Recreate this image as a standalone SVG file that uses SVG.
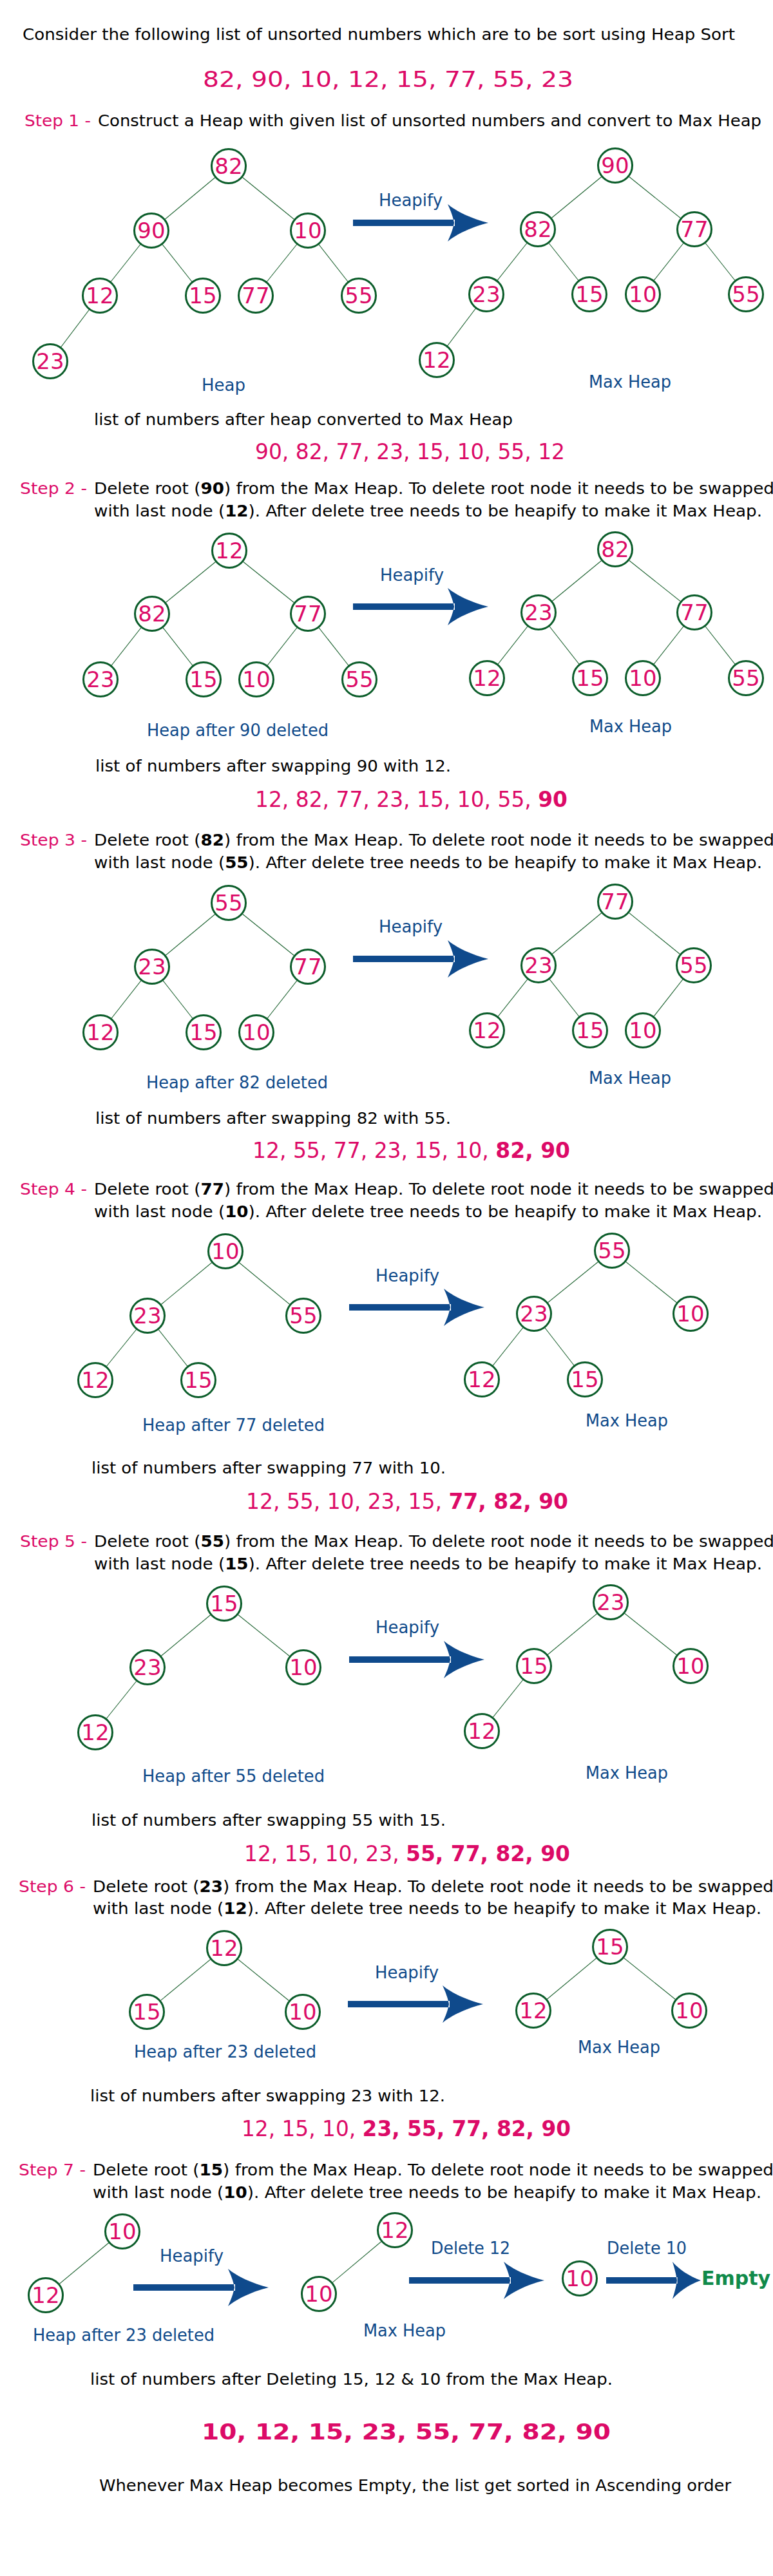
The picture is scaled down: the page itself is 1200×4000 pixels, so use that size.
<svg xmlns="http://www.w3.org/2000/svg" width="1200" height="4000" viewBox="0 0 1200 4000">
<style>
.bg{fill:#fff}
.node circle{fill:#fff;stroke:#0b5d2a;stroke-width:3}
.node text{font-family:"DejaVu Sans",sans-serif;font-size:34px;fill:#dc0a67;text-anchor:middle}
.edges line{stroke:#1f6432;stroke-width:1.1}
.t{font-family:"DejaVu Sans",sans-serif;font-size:25px;fill:#000}
.pk{fill:#dc0a67}
.bl{font-family:"DejaVu Sans",sans-serif;font-size:26px;fill:#0f4a8a}
.num{font-family:"DejaVu Sans",sans-serif;font-size:33px;fill:#dc0a67}
.b{font-weight:bold}
.arrow{fill:#0f4a8c}
.empty{font-family:"DejaVu Sans",sans-serif;font-size:30px;font-weight:bold;fill:#108a4a}
</style>
<defs>
<path id="arr" d="M -210 -5 H -52 V 5 H -210 Z M 0 0 C -25 -6 -50 -18 -63 -29 C -58 -18 -55 -10 -53 0 C -55 10 -58 18 -63 29 C -50 18 -25 6 0 0 Z"/>
</defs>
<rect class="bg" x="0" y="0" width="1200" height="4000"/>

<!-- Intro -->
<text class="t" x="35" y="62" font-size="26" textLength="1106" lengthAdjust="spacingAndGlyphs">Consider the following list of unsorted numbers which are to be sort using Heap Sort</text>
<text class="num" x="315" y="135" font-size="40" textLength="575" lengthAdjust="spacingAndGlyphs">82, 90, 10, 12, 15, 77, 55, 23</text>
<text class="t pk" x="38" y="196" textLength="103" lengthAdjust="spacingAndGlyphs">Step 1 -</text>
<text class="t" x="152" y="196" textLength="1030" lengthAdjust="spacingAndGlyphs">Construct a Heap with given list of unsorted numbers and convert to Max Heap</text>

<!-- Step texts -->
<text class="t pk" x="31" y="767" textLength="104" lengthAdjust="spacingAndGlyphs">Step 2 -</text>
<text class="t" x="146" y="767" textLength="1056" lengthAdjust="spacingAndGlyphs">Delete root (<tspan class="b">90</tspan>) from the Max Heap. To delete root node it needs to be swapped</text>
<text class="t" x="146" y="802" textLength="1037" lengthAdjust="spacingAndGlyphs">with last node (<tspan class="b">12</tspan>). After delete tree needs to be heapify to make it Max Heap.</text>

<text class="t pk" x="31" y="1313" textLength="104" lengthAdjust="spacingAndGlyphs">Step 3 -</text>
<text class="t" x="146" y="1313" textLength="1056" lengthAdjust="spacingAndGlyphs">Delete root (<tspan class="b">82</tspan>) from the Max Heap. To delete root node it needs to be swapped</text>
<text class="t" x="146" y="1348" textLength="1037" lengthAdjust="spacingAndGlyphs">with last node (<tspan class="b">55</tspan>). After delete tree needs to be heapify to make it Max Heap.</text>

<text class="t pk" x="31" y="1855" textLength="104" lengthAdjust="spacingAndGlyphs">Step 4 -</text>
<text class="t" x="146" y="1855" textLength="1056" lengthAdjust="spacingAndGlyphs">Delete root (<tspan class="b">77</tspan>) from the Max Heap. To delete root node it needs to be swapped</text>
<text class="t" x="146" y="1890" textLength="1037" lengthAdjust="spacingAndGlyphs">with last node (<tspan class="b">10</tspan>). After delete tree needs to be heapify to make it Max Heap.</text>

<text class="t pk" x="31" y="2402" textLength="104" lengthAdjust="spacingAndGlyphs">Step 5 -</text>
<text class="t" x="146" y="2402" textLength="1056" lengthAdjust="spacingAndGlyphs">Delete root (<tspan class="b">55</tspan>) from the Max Heap. To delete root node it needs to be swapped</text>
<text class="t" x="146" y="2437" textLength="1037" lengthAdjust="spacingAndGlyphs">with last node (<tspan class="b">15</tspan>). After delete tree needs to be heapify to make it Max Heap.</text>

<text class="t pk" x="29" y="2938" textLength="104" lengthAdjust="spacingAndGlyphs">Step 6 -</text>
<text class="t" x="144" y="2938" textLength="1057" lengthAdjust="spacingAndGlyphs">Delete root (<tspan class="b">23</tspan>) from the Max Heap. To delete root node it needs to be swapped</text>
<text class="t" x="144" y="2972" textLength="1038" lengthAdjust="spacingAndGlyphs">with last node (<tspan class="b">12</tspan>). After delete tree needs to be heapify to make it Max Heap.</text>

<text class="t pk" x="29" y="3378" textLength="104" lengthAdjust="spacingAndGlyphs">Step 7 -</text>
<text class="t" x="144" y="3378" textLength="1057" lengthAdjust="spacingAndGlyphs">Delete root (<tspan class="b">15</tspan>) from the Max Heap. To delete root node it needs to be swapped</text>
<text class="t" x="144" y="3413" textLength="1038" lengthAdjust="spacingAndGlyphs">with last node (<tspan class="b">10</tspan>). After delete tree needs to be heapify to make it Max Heap.</text>

<!-- list captions -->
<text class="t" x="146" y="660" textLength="650" lengthAdjust="spacingAndGlyphs">list of numbers after heap converted to Max Heap</text>
<text class="t" x="148" y="1198" textLength="552" lengthAdjust="spacingAndGlyphs">list of numbers after swapping 90 with 12.</text>
<text class="t" x="148" y="1745" textLength="552" lengthAdjust="spacingAndGlyphs">list of numbers after swapping 82 with 55.</text>
<text class="t" x="142" y="2288" textLength="550" lengthAdjust="spacingAndGlyphs">list of numbers after swapping 77 with 10.</text>
<text class="t" x="142" y="2835" textLength="550" lengthAdjust="spacingAndGlyphs">list of numbers after swapping 55 with 15.</text>
<text class="t" x="140" y="3263" textLength="551" lengthAdjust="spacingAndGlyphs">list of numbers after swapping 23 with 12.</text>
<text class="t" x="140" y="3703" textLength="811" lengthAdjust="spacingAndGlyphs">list of numbers after Deleting 15, 12 &amp; 10 from the Max Heap.</text>
<text class="t" x="154" y="3868" textLength="981" lengthAdjust="spacingAndGlyphs">Whenever Max Heap becomes Empty, the list get sorted in Ascending order</text>

<!-- number lists -->
<text class="num" x="396" y="713" textLength="481" lengthAdjust="spacingAndGlyphs">90, 82, 77, 23, 15, 10, 55, 12</text>
<text class="num" x="396" y="1253" textLength="485" lengthAdjust="spacingAndGlyphs">12, 82, 77, 23, 15, 10, 55, <tspan class="b">90</tspan></text>
<text class="num" x="392" y="1798" textLength="493" lengthAdjust="spacingAndGlyphs">12, 55, 77, 23, 15, 10, <tspan class="b">82, 90</tspan></text>
<text class="num" x="382" y="2343" textLength="500" lengthAdjust="spacingAndGlyphs">12, 55, 10, 23, 15, <tspan class="b">77, 82, 90</tspan></text>
<text class="num" x="379" y="2890" textLength="506" lengthAdjust="spacingAndGlyphs">12, 15, 10, 23, <tspan class="b">55, 77, 82, 90</tspan></text>
<text class="num" x="375" y="3317" textLength="511" lengthAdjust="spacingAndGlyphs">12, 15, 10, <tspan class="b">23, 55, 77, 82, 90</tspan></text>
<text class="num b" x="313" y="3788" font-size="40" textLength="635" lengthAdjust="spacingAndGlyphs">10, 12, 15, 23, 55, 77, 82, 90</text>

<!-- blue labels -->
<text class="bl" x="313" y="607">Heap</text>
<text class="bl" x="914" y="602" textLength="128" lengthAdjust="spacingAndGlyphs">Max Heap</text>
<text class="bl" x="228" y="1143" textLength="282" lengthAdjust="spacingAndGlyphs">Heap after 90 deleted</text>
<text class="bl" x="915" y="1137" textLength="128" lengthAdjust="spacingAndGlyphs">Max Heap</text>
<text class="bl" x="227" y="1690" textLength="282" lengthAdjust="spacingAndGlyphs">Heap after 82 deleted</text>
<text class="bl" x="914" y="1683" textLength="128" lengthAdjust="spacingAndGlyphs">Max Heap</text>
<text class="bl" x="221" y="2222" textLength="283" lengthAdjust="spacingAndGlyphs">Heap after 77 deleted</text>
<text class="bl" x="909" y="2215" textLength="128" lengthAdjust="spacingAndGlyphs">Max Heap</text>
<text class="bl" x="221" y="2767" textLength="283" lengthAdjust="spacingAndGlyphs">Heap after 55 deleted</text>
<text class="bl" x="909" y="2762" textLength="128" lengthAdjust="spacingAndGlyphs">Max Heap</text>
<text class="bl" x="208" y="3195" textLength="283" lengthAdjust="spacingAndGlyphs">Heap after 23 deleted</text>
<text class="bl" x="897" y="3188" textLength="128" lengthAdjust="spacingAndGlyphs">Max Heap</text>
<text class="bl" x="51" y="3635" textLength="282" lengthAdjust="spacingAndGlyphs">Heap after 23 deleted</text>
<text class="bl" x="564" y="3628" textLength="128" lengthAdjust="spacingAndGlyphs">Max Heap</text>

<!-- arrows -->
<g id="arrows" class="arrow">
<text class="bl" x="588" y="320" textLength="99" lengthAdjust="spacingAndGlyphs">Heapify</text>
<use href="#arr" transform="translate(758,346)"/>
<text class="bl" x="590" y="902" textLength="99" lengthAdjust="spacingAndGlyphs">Heapify</text>
<use href="#arr" transform="translate(758,942)"/>
<text class="bl" x="588" y="1448" textLength="99" lengthAdjust="spacingAndGlyphs">Heapify</text>
<use href="#arr" transform="translate(758,1489)"/>
<text class="bl" x="583" y="1990" textLength="99" lengthAdjust="spacingAndGlyphs">Heapify</text>
<use href="#arr" transform="translate(752,2030)"/>
<text class="bl" x="583" y="2536" textLength="99" lengthAdjust="spacingAndGlyphs">Heapify</text>
<use href="#arr" transform="translate(752,2577)"/>
<text class="bl" x="582" y="3072" textLength="99" lengthAdjust="spacingAndGlyphs">Heapify</text>
<use href="#arr" transform="translate(750,3112)"/>
<text class="bl" x="248" y="3512" textLength="99" lengthAdjust="spacingAndGlyphs">Heapify</text>
<use href="#arr" transform="translate(417,3552)"/>
<text class="bl" x="669" y="3500" textLength="123" lengthAdjust="spacingAndGlyphs">Delete 12</text>
<use href="#arr" transform="translate(845,3541)"/>
<text class="bl" x="942" y="3500" textLength="124" lengthAdjust="spacingAndGlyphs">Delete 10</text>
<use href="#arr" transform="translate(1088,3541) scale(0.7,1)"/>
</g>
<text class="empty" x="1089" y="3548">Empty</text>

<!-- connectors -->
<g id="connectors" class="edges">
<line x1="355" y1="258" x2="235" y2="358"/><line x1="355" y1="258" x2="478" y2="358"/>
<line x1="235" y1="358" x2="155" y2="459"/><line x1="235" y1="358" x2="315" y2="459"/>
<line x1="478" y1="358" x2="397" y2="459"/><line x1="478" y1="358" x2="557" y2="459"/>
<line x1="155" y1="459" x2="78" y2="561"/>
<line x1="955" y1="257" x2="835" y2="356"/><line x1="955" y1="257" x2="1078" y2="356"/>
<line x1="835" y1="356" x2="755" y2="457"/><line x1="835" y1="356" x2="915" y2="457"/>
<line x1="1078" y1="356" x2="998" y2="457"/><line x1="1078" y1="356" x2="1158" y2="457"/>
<line x1="755" y1="457" x2="678" y2="559"/>

<line x1="356" y1="855" x2="236" y2="953"/><line x1="356" y1="855" x2="478" y2="953"/>
<line x1="236" y1="953" x2="156" y2="1055"/><line x1="236" y1="953" x2="316" y2="1055"/>
<line x1="478" y1="953" x2="398" y2="1055"/><line x1="478" y1="953" x2="558" y2="1055"/>
<line x1="955" y1="853" x2="836" y2="951"/><line x1="955" y1="853" x2="1078" y2="951"/>
<line x1="836" y1="951" x2="756" y2="1053"/><line x1="836" y1="951" x2="916" y2="1053"/>
<line x1="1078" y1="951" x2="998" y2="1053"/><line x1="1078" y1="951" x2="1158" y2="1053"/>

<line x1="355" y1="1402" x2="236" y2="1501"/><line x1="355" y1="1402" x2="478" y2="1501"/>
<line x1="236" y1="1501" x2="156" y2="1603"/><line x1="236" y1="1501" x2="316" y2="1603"/>
<line x1="478" y1="1501" x2="398" y2="1603"/>
<line x1="955" y1="1400" x2="836" y2="1499"/><line x1="955" y1="1400" x2="1077" y2="1499"/>
<line x1="836" y1="1499" x2="756" y2="1600"/><line x1="836" y1="1499" x2="916" y2="1600"/>
<line x1="1077" y1="1499" x2="998" y2="1600"/>

<line x1="350" y1="1943" x2="229" y2="2043"/><line x1="350" y1="1943" x2="471" y2="2043"/>
<line x1="229" y1="2043" x2="148" y2="2143"/><line x1="229" y1="2043" x2="308" y2="2143"/>
<line x1="950" y1="1942" x2="829" y2="2040"/><line x1="950" y1="1942" x2="1072" y2="2040"/>
<line x1="829" y1="2040" x2="748" y2="2142"/><line x1="829" y1="2040" x2="908" y2="2142"/>

<line x1="348" y1="2490" x2="229" y2="2589"/><line x1="348" y1="2490" x2="471" y2="2589"/>
<line x1="229" y1="2589" x2="148" y2="2690"/>
<line x1="948" y1="2488" x2="829" y2="2587"/><line x1="948" y1="2488" x2="1072" y2="2587"/>
<line x1="829" y1="2587" x2="748" y2="2688"/>

<line x1="348" y1="3025" x2="228" y2="3124"/><line x1="348" y1="3025" x2="470" y2="3124"/>
<line x1="947" y1="3023" x2="828" y2="3122"/><line x1="947" y1="3023" x2="1070" y2="3122"/>

<line x1="190" y1="3465" x2="71" y2="3564"/>
<line x1="613" y1="3463" x2="495" y2="3562"/>
</g>

<!-- nodes -->
<g id="s1-heap">
<g id="n1a" class="node"><circle cx="355" cy="258" r="26.5"/><text x="355" y="270">82</text></g>
<g id="n1b" class="node"><circle cx="235" cy="358" r="26.5"/><text x="235" y="370">90</text></g>
<g id="n1c" class="node"><circle cx="478" cy="358" r="26.5"/><text x="478" y="370">10</text></g>
<g id="n1d" class="node"><circle cx="155" cy="459" r="26.5"/><text x="155" y="471">12</text></g>
<g id="n1e" class="node"><circle cx="315" cy="459" r="26.5"/><text x="315" y="471">15</text></g>
<g id="n1f" class="node"><circle cx="397" cy="459" r="26.5"/><text x="397" y="471">77</text></g>
<g id="n1g" class="node"><circle cx="557" cy="459" r="26.5"/><text x="557" y="471">55</text></g>
<g id="n1h" class="node"><circle cx="78" cy="561" r="26.5"/><text x="78" y="573">23</text></g>
</g>
<g id="s1-max">
<g id="m1a" class="node"><circle cx="955" cy="257" r="26.5"/><text x="955" y="269">90</text></g>
<g id="m1b" class="node"><circle cx="835" cy="356" r="26.5"/><text x="835" y="368">82</text></g>
<g id="m1c" class="node"><circle cx="1078" cy="356" r="26.5"/><text x="1078" y="368">77</text></g>
<g id="m1d" class="node"><circle cx="755" cy="457" r="26.5"/><text x="755" y="469">23</text></g>
<g id="m1e" class="node"><circle cx="915" cy="457" r="26.5"/><text x="915" y="469">15</text></g>
<g id="m1f" class="node"><circle cx="998" cy="457" r="26.5"/><text x="998" y="469">10</text></g>
<g id="m1g" class="node"><circle cx="1158" cy="457" r="26.5"/><text x="1158" y="469">55</text></g>
<g id="m1h" class="node"><circle cx="678" cy="559" r="26.5"/><text x="678" y="571">12</text></g>
</g>

<g id="s2-heap">
<g id="n2a" class="node"><circle cx="356" cy="855" r="26.5"/><text x="356" y="867">12</text></g>
<g id="n2b" class="node"><circle cx="236" cy="953" r="26.5"/><text x="236" y="965">82</text></g>
<g id="n2c" class="node"><circle cx="478" cy="953" r="26.5"/><text x="478" y="965">77</text></g>
<g id="n2d" class="node"><circle cx="156" cy="1055" r="26.5"/><text x="156" y="1067">23</text></g>
<g id="n2e" class="node"><circle cx="316" cy="1055" r="26.5"/><text x="316" y="1067">15</text></g>
<g id="n2f" class="node"><circle cx="398" cy="1055" r="26.5"/><text x="398" y="1067">10</text></g>
<g id="n2g" class="node"><circle cx="558" cy="1055" r="26.5"/><text x="558" y="1067">55</text></g>
</g>
<g id="s2-max">
<g id="m2a" class="node"><circle cx="955" cy="853" r="26.5"/><text x="955" y="865">82</text></g>
<g id="m2b" class="node"><circle cx="836" cy="951" r="26.5"/><text x="836" y="963">23</text></g>
<g id="m2c" class="node"><circle cx="1078" cy="951" r="26.5"/><text x="1078" y="963">77</text></g>
<g id="m2d" class="node"><circle cx="756" cy="1053" r="26.5"/><text x="756" y="1065">12</text></g>
<g id="m2e" class="node"><circle cx="916" cy="1053" r="26.5"/><text x="916" y="1065">15</text></g>
<g id="m2f" class="node"><circle cx="998" cy="1053" r="26.5"/><text x="998" y="1065">10</text></g>
<g id="m2g" class="node"><circle cx="1158" cy="1053" r="26.5"/><text x="1158" y="1065">55</text></g>
</g>

<g id="s3-heap">
<g id="n3a" class="node"><circle cx="355" cy="1402" r="26.5"/><text x="355" y="1414">55</text></g>
<g id="n3b" class="node"><circle cx="236" cy="1501" r="26.5"/><text x="236" y="1513">23</text></g>
<g id="n3c" class="node"><circle cx="478" cy="1501" r="26.5"/><text x="478" y="1513">77</text></g>
<g id="n3d" class="node"><circle cx="156" cy="1603" r="26.5"/><text x="156" y="1615">12</text></g>
<g id="n3e" class="node"><circle cx="316" cy="1603" r="26.5"/><text x="316" y="1615">15</text></g>
<g id="n3f" class="node"><circle cx="398" cy="1603" r="26.5"/><text x="398" y="1615">10</text></g>
</g>
<g id="s3-max">
<g id="m3a" class="node"><circle cx="955" cy="1400" r="26.5"/><text x="955" y="1412">77</text></g>
<g id="m3b" class="node"><circle cx="836" cy="1499" r="26.5"/><text x="836" y="1511">23</text></g>
<g id="m3c" class="node"><circle cx="1077" cy="1499" r="26.5"/><text x="1077" y="1511">55</text></g>
<g id="m3d" class="node"><circle cx="756" cy="1600" r="26.5"/><text x="756" y="1612">12</text></g>
<g id="m3e" class="node"><circle cx="916" cy="1600" r="26.5"/><text x="916" y="1612">15</text></g>
<g id="m3f" class="node"><circle cx="998" cy="1600" r="26.5"/><text x="998" y="1612">10</text></g>
</g>

<g id="s4-heap">
<g id="n4a" class="node"><circle cx="350" cy="1943" r="26.5"/><text x="350" y="1955">10</text></g>
<g id="n4b" class="node"><circle cx="229" cy="2043" r="26.5"/><text x="229" y="2055">23</text></g>
<g id="n4c" class="node"><circle cx="471" cy="2043" r="26.5"/><text x="471" y="2055">55</text></g>
<g id="n4d" class="node"><circle cx="148" cy="2143" r="26.5"/><text x="148" y="2155">12</text></g>
<g id="n4e" class="node"><circle cx="308" cy="2143" r="26.5"/><text x="308" y="2155">15</text></g>
</g>
<g id="s4-max">
<g id="m4a" class="node"><circle cx="950" cy="1942" r="26.5"/><text x="950" y="1954">55</text></g>
<g id="m4b" class="node"><circle cx="829" cy="2040" r="26.5"/><text x="829" y="2052">23</text></g>
<g id="m4c" class="node"><circle cx="1072" cy="2040" r="26.5"/><text x="1072" y="2052">10</text></g>
<g id="m4d" class="node"><circle cx="748" cy="2142" r="26.5"/><text x="748" y="2154">12</text></g>
<g id="m4e" class="node"><circle cx="908" cy="2142" r="26.5"/><text x="908" y="2154">15</text></g>
</g>

<g id="s5-heap">
<g id="n5a" class="node"><circle cx="348" cy="2490" r="26.5"/><text x="348" y="2502">15</text></g>
<g id="n5b" class="node"><circle cx="229" cy="2589" r="26.5"/><text x="229" y="2601">23</text></g>
<g id="n5c" class="node"><circle cx="471" cy="2589" r="26.5"/><text x="471" y="2601">10</text></g>
<g id="n5d" class="node"><circle cx="148" cy="2690" r="26.5"/><text x="148" y="2702">12</text></g>
</g>
<g id="s5-max">
<g id="m5a" class="node"><circle cx="948" cy="2488" r="26.5"/><text x="948" y="2500">23</text></g>
<g id="m5b" class="node"><circle cx="829" cy="2587" r="26.5"/><text x="829" y="2599">15</text></g>
<g id="m5c" class="node"><circle cx="1072" cy="2587" r="26.5"/><text x="1072" y="2599">10</text></g>
<g id="m5d" class="node"><circle cx="748" cy="2688" r="26.5"/><text x="748" y="2700">12</text></g>
</g>

<g id="s6-heap">
<g id="n6a" class="node"><circle cx="348" cy="3025" r="26.5"/><text x="348" y="3037">12</text></g>
<g id="n6b" class="node"><circle cx="228" cy="3124" r="26.5"/><text x="228" y="3136">15</text></g>
<g id="n6c" class="node"><circle cx="470" cy="3124" r="26.5"/><text x="470" y="3136">10</text></g>
</g>
<g id="s6-max">
<g id="m6a" class="node"><circle cx="947" cy="3023" r="26.5"/><text x="947" y="3035">15</text></g>
<g id="m6b" class="node"><circle cx="828" cy="3122" r="26.5"/><text x="828" y="3134">12</text></g>
<g id="m6c" class="node"><circle cx="1070" cy="3122" r="26.5"/><text x="1070" y="3134">10</text></g>
</g>

<g id="s7">
<g id="n7a" class="node"><circle cx="190" cy="3465" r="26.5"/><text x="190" y="3477">10</text></g>
<g id="n7b" class="node"><circle cx="71" cy="3564" r="26.5"/><text x="71" y="3576">12</text></g>
<g id="m7a" class="node"><circle cx="613" cy="3463" r="26.5"/><text x="613" y="3475">12</text></g>
<g id="m7b" class="node"><circle cx="495" cy="3562" r="26.5"/><text x="495" y="3574">10</text></g>
<g id="d7a" class="node"><circle cx="900" cy="3538" r="26.5"/><text x="900" y="3550">10</text></g>
</g>
</svg>
